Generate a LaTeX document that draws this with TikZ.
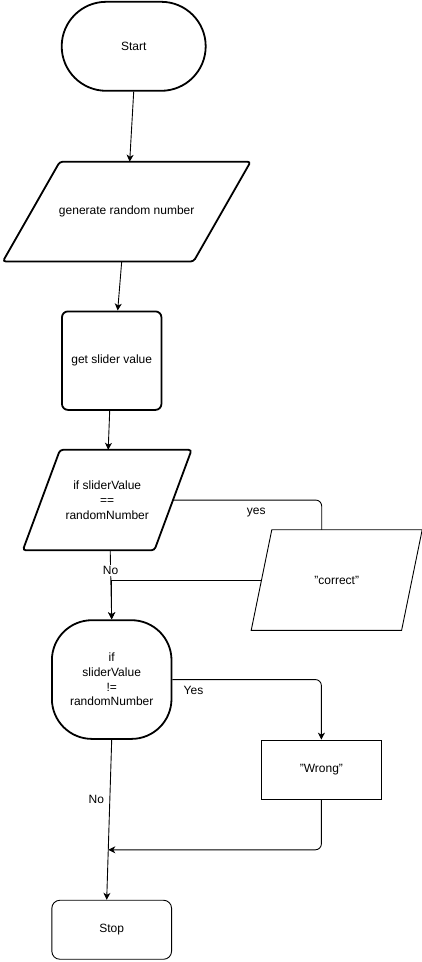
\documentclass[tikz,border=0pt]{standalone}
\usepackage{fontspec}
\setmainfont{Liberation Sans}
\usepackage{tikz}
\usetikzlibrary{arrows.meta, positioning, calc}
\newcommand{\slantframe}[2]{([xshift=#2]#1.north west) -- ([xshift=#2]#1.north east)
  -- ([xshift=-#2]#1.south east) -- ([xshift=-#2]#1.south west) -- cycle}

\begin{document}
\begin{tikzpicture}[every node/.style={font=\fontsize{12pt}{14.7pt}\selectfont},
    heavy/.style={draw,line width=1.8pt,align=center},
    plain/.style={draw,line width=0.9pt,align=center},
    heavytext/.style={align=center,outer sep=0.9pt},
    plaintext/.style={align=center,outer sep=0.45pt},
    flow/.style={-{Stealth[length=7pt,width=7pt,inset=2pt]},line width=0.9pt},
    link/.style={line width=0.9pt}]
  \useasboundingbox (0,0) rectangle (422pt,-962pt);
  \node[heavy,rounded corners=44.5pt,minimum width=144pt,minimum height=89pt]
        (start) at (133.7pt,-46.3pt) {Start};
  \node[heavytext,minimum width=189pt,minimum height=98pt,below=70pt of start,xshift=-7pt]
        (gen) {generate random number};
  \node[heavy,rounded corners=6pt,minimum width=99.5pt,minimum height=98.5pt,
        below=49pt of gen,xshift=-15pt] (slider) {get slider value};
  \node[heavytext,minimum width=129.8pt,minimum height=98.7pt,below=39pt of slider,xshift=-4.5pt]
        (ifeq) {if sliderValue\\==\\randomNumber};
  \node[plaintext,minimum width=149.5pt,minimum height=99.7pt,right=88.5pt of ifeq,yshift=-80pt]
        (correct) {"correct"};
  \node[heavy,rounded corners=40pt,minimum width=119.6pt,minimum height=118.7pt,
        below=69pt of ifeq,xshift=4.5pt] (ifne) {if\\sliderValue\\!=\\randomNumber};
  \node[plain,minimum width=119.7pt,minimum height=59.3pt,right=88.7pt of ifne,yshift=-90.2pt]
        (wrong) {"Wrong"};
  \node[plain,rounded corners=8pt,minimum width=119.7pt,minimum height=59pt,
        below=160pt of ifne] (stop) {Stop};
  \draw[line width=1.8pt,rounded corners=3pt] \slantframe{gen}{28.5pt};
  \draw[line width=1.8pt,rounded corners=3pt] \slantframe{ifeq}{18.6pt};
  \draw[line width=0.9pt] \slantframe{correct}{10.3pt};
  \coordinate (merge) at ($(ifne.south)!0.6875!([xshift=-5pt]stop.north)$);
  \draw[flow] (start.south) -- ([xshift=3pt]gen.north);
  \draw[flow] ([xshift=-5pt]gen.south) -- ([xshift=6pt]slider.north);
  \draw[flow] ([xshift=-2pt]slider.south) -- ([xshift=1pt]ifeq.north);
  \draw[link,rounded corners=6pt] (ifeq.east) -| node[pos=0.28,below,yshift=-4.5pt] {yes}
        ([xshift=-15pt]correct.north);
  \draw[flow] (correct.west) -| (ifne.north);
  \draw[flow] ([xshift=3pt]ifeq.south) -- node[pos=0.29,fill=white,inner sep=1pt] {No} (ifne.north);
  \draw[flow,rounded corners=6pt] (ifne.east) -| node[pos=0,below right,xshift=7.5pt,yshift=-3pt] {Yes}
        (wrong.north);
  \draw[flow,rounded corners=6pt] (wrong.south) |- (merge);
  \draw[flow] (ifne.south) -- node[pos=0.375,left,xshift=-2pt] {No} ([xshift=-5pt]stop.north);
\end{tikzpicture}
\end{document}
